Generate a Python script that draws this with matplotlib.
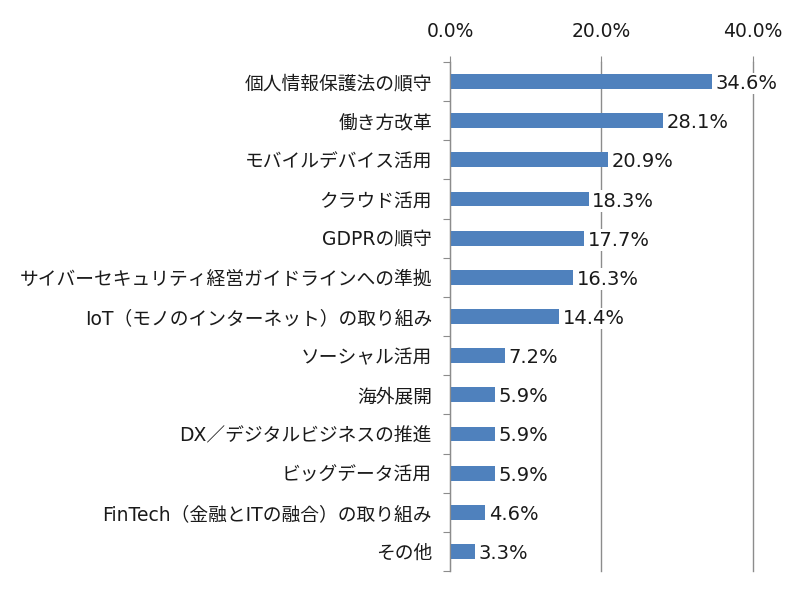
import matplotlib
matplotlib.use("Agg")
import matplotlib.pyplot as plt
from matplotlib.ticker import FuncFormatter

plt.rcParams['font.family'] = ['DejaVu Sans', 'Noto Sans CJK JP']

# データ
categories = [
    "個人情報保護法の順守",
    "働き方改革",
    "モバイルデバイス活用",
    "クラウド活用",
    "GDPRの順守",
    "サイバーセキュリティ経営ガイドラインへの準拠",
    "IoT（モノのインターネット）の取り組み",
    "ソーシャル活用",
    "海外展開",
    "DX／デジタルビジネスの推進",
    "ビッグデータ活用",
    "FinTech（金融とITの融合）の取り組み",
    "その他",
]
values = [34.6, 28.1, 20.9, 18.3, 17.7, 16.3, 14.4, 7.2, 5.9, 5.9, 5.9, 4.6, 3.3]
x_ticks = [0, 20, 40]

bar_color = "#4F81BD"
grid_color = "#8C8C8C"
text_color = "#1a1a1a"

fig = plt.figure(figsize=(8, 5.9), dpi=100)
ax = fig.add_axes([0.5625, 0.0322, 0.941 - 0.5625, 0.8949 - 0.0322])

pos = list(range(len(categories)))
ax.barh(pos, values, height=0.38, color=bar_color, zorder=2)
ax.set_ylim(len(categories) - 0.5, -0.5)
ax.set_xlim(0, 40)

# 目盛り（上側）
ax.xaxis.tick_top()
ax.set_xticks(x_ticks)
ax.xaxis.set_major_formatter(FuncFormatter(lambda v, p: f"{v:.1f}%"))
ax.tick_params(axis="x", length=4, color=grid_color, labelsize=13.5, pad=11, labelcolor=text_color)
ax.grid(axis="x", color=grid_color, linewidth=1, zorder=0)
for gl in ax.get_xgridlines():
    gl.set_clip_on(False)

# 分類ラベルは区切り目盛りの間に置く
ax.set_yticks([p - 0.5 for p in pos] + [len(categories) - 0.5])
ax.set_yticklabels([])
ax.set_yticks(pos, minor=True)
ax.set_yticklabels(categories, minor=True, fontsize=13.5, color=text_color)
ax.tick_params(axis="y", which="major", length=5, color=grid_color)
ax.tick_params(axis="y", which="minor", length=0, pad=13)

for s in ["top", "right", "bottom"]:
    ax.spines[s].set_visible(False)
ax.spines["left"].set_color(grid_color)

for p, v in zip(pos, values):
    ax.text(v + 0.5, p + 0.05, f"{v:.1f}%", va="center", ha="left", fontsize=14,
            color=text_color, zorder=3,
            bbox=dict(facecolor="white", edgecolor="none", pad=1))

fig.savefig("out.png", dpi=100)
